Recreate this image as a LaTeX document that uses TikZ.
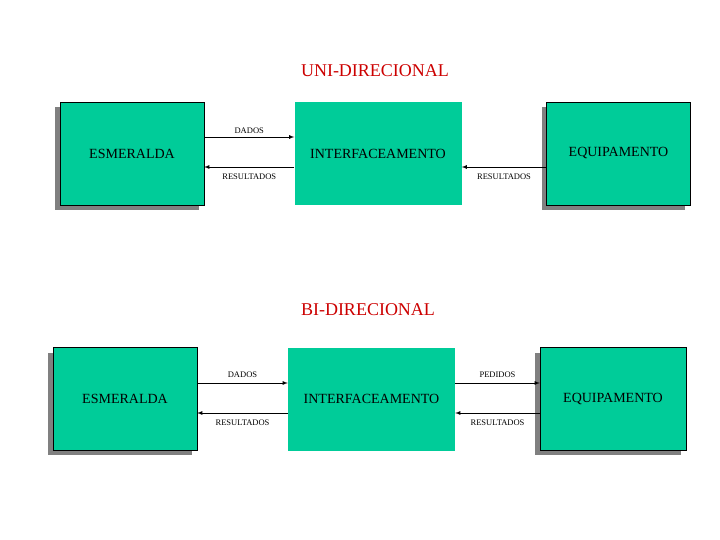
\documentclass[tikz,border=0pt]{standalone}
\usepackage{fontspec}
\setmainfont{Liberation Serif}
\usetikzlibrary{positioning}
\definecolor{jade}{RGB}{0,204,153}
\definecolor{titlered}{RGB}{204,0,0}
\tikzset{
  side/.style={draw=black, fill=jade, minimum width=144pt, minimum height=103pt,
    inner sep=0pt, font=\fontsize{14}{16}\selectfont},
  middle/.style={fill=jade, minimum width=167pt, minimum height=103pt,
    inner sep=0pt, font=\fontsize{14}{16}\selectfont},
  flow/.style={thick, -latex},
  tag/.style={font=\fontsize{8.5}{10}\selectfont},
  heading/.style={text=titlered, font=\fontsize{18}{20}\selectfont}
}
\newcommand{\shadowbox}[1]{\fill[gray] ([xshift=-5pt,yshift=-5pt]#1.south west) rectangle ([xshift=-5pt,yshift=-5pt]#1.north east);}
\begin{document}
\begin{tikzpicture}[x=1pt, y=-1pt]
  \useasboundingbox (0,0) rectangle (720,540);

  % uni-direcional
  \node[heading] (uni) at (375,71) {UNI-DIRECIONAL};
  \path (132,153.5) coordinate (e1c) (618.5,153.5) coordinate (q1c);
  \fill[gray] (55,107) rectangle (199,210);
  \fill[gray] (542,107) rectangle (685,210);
  \node[side] (esm1) at (e1c) {ESMERALDA};
  \node[middle] (int1) at (378,153.5) {INTERFACEAMENTO};
  \node[side] (equ1) at (q1c) {EQUIPAMENTO};
  \draw[flow] (esm1.east |- 0,137) -- node[tag, above] {DADOS} (int1.west |- 0,137);
  \draw[flow] (int1.west |- 0,167) -- node[tag, below=3pt] {RESULTADOS} (esm1.east |- 0,167);
  \draw[flow] (equ1.west |- 0,167) -- node[tag, below=3pt] {RESULTADOS} (int1.east |- 0,167);

  % bi-direcional
  \node[heading] (bi) at (368,310) {BI-DIRECIONAL};
  \fill[gray] (48,353) rectangle (192,455);
  \fill[gray] (535,353) rectangle (681,455);
  \node[side] (esm2) at (125,399) {ESMERALDA};
  \node[middle] (int2) at (371.5,399) {INTERFACEAMENTO};
  \node[side, minimum width=146pt] (equ2) at (613,399) {EQUIPAMENTO};
  \draw[flow] (esm2.east |- 0,383) -- node[tag, above=2pt] {DADOS} (int2.west |- 0,383);
  \draw[flow] (int2.west |- 0,413) -- node[tag, below=3pt] {RESULTADOS} (esm2.east |- 0,413);
  \draw[flow] (int2.east |- 0,383) -- node[tag, above=2pt] {PEDIDOS} (equ2.west |- 0,383);
  \draw[flow] (equ2.west |- 0,413) -- node[tag, below=3pt] {RESULTADOS} (int2.east |- 0,413);
\end{tikzpicture}
\end{document}
